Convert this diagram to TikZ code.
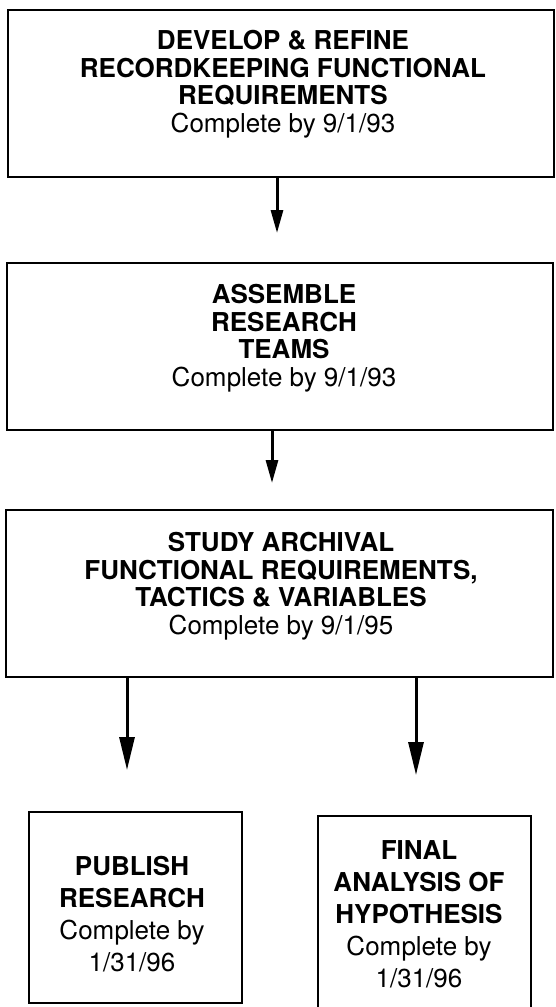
\documentclass[tikz,border=0pt]{standalone}
\usepackage{fontspec}
\setmainfont{TeX Gyre Heros}
\usetikzlibrary{arrows.meta}
\begin{document}
\begin{tikzpicture}[x=1pt,y=-1pt,
  box/.style={draw=black, line width=1.5pt, rectangle, inner sep=0pt, fill=none},
  topbox/.style={box, minimum width=546pt, minimum height=167pt},
  lowbox/.style={box, minimum width=213pt, minimum height=191pt},
  toptxt/.style={align=center, inner sep=0pt, font=\fontsize{26}{27.5}\selectfont},
  lowtxt/.style={align=center, inner sep=0pt, font=\fontsize{26}{32}\selectfont},
  shortarrow/.style={line width=3pt, -{Triangle[length=23pt,width=12pt]}},
  longarrow/.style={line width=3pt, -{Triangle[length=33pt,width=15pt]}}]
\useasboundingbox (0,0) rectangle (555,1007);

\node[topbox] (b1) at (281,93.5) {};
\node[topbox] (b2) at (280,346.5) {};
\node[topbox, minimum width=547pt] (b3) at (279.5,593.5) {};
\node[lowbox] (b4) at (135.5,907.5) {};
\node[lowbox, minimum height=199pt] (b5) at (424.5,915.5) {};

\node[toptxt] (t1) at (283,84) {\textbf{DEVELOP \& REFINE}\\\textbf{RECORDKEEPING FUNCTIONAL}\\\textbf{REQUIREMENTS}\\Complete by 9/1/93};
\node[toptxt] (t2) at (284,338) {\textbf{ASSEMBLE}\\\textbf{RESEARCH}\\\textbf{TEAMS}\\Complete by 9/1/93};
\node[toptxt] (t3) at (281,586) {\textbf{STUDY ARCHIVAL}\\\textbf{FUNCTIONAL REQUIREMENTS,}\\\textbf{TACTICS \& VARIABLES}\\Complete by 9/1/95};
\node[lowtxt] (t4) at (132,914) {\textbf{PUBLISH}\\\textbf{RESEARCH}\\Complete by\\1/31/96};
\node[lowtxt] (t5) at (419,914) {\textbf{FINAL}\\\textbf{ANALYSIS OF}\\\textbf{HYPOTHESIS}\\Complete by\\1/31/96};

\coordinate (a1) at (277,233);
\coordinate (a2) at (272,483);
\coordinate (a3) at (127,770);
\coordinate (a4) at (416,775);

\draw[shortarrow] (b1.south -| a1) -- (a1);
\draw[shortarrow] (b2.south -| a2) -- (a2);
\draw[longarrow] (b3.south -| a3) -- (a3);
\draw[longarrow] (b3.south -| a4) -- (a4);
\end{tikzpicture}
\end{document}
